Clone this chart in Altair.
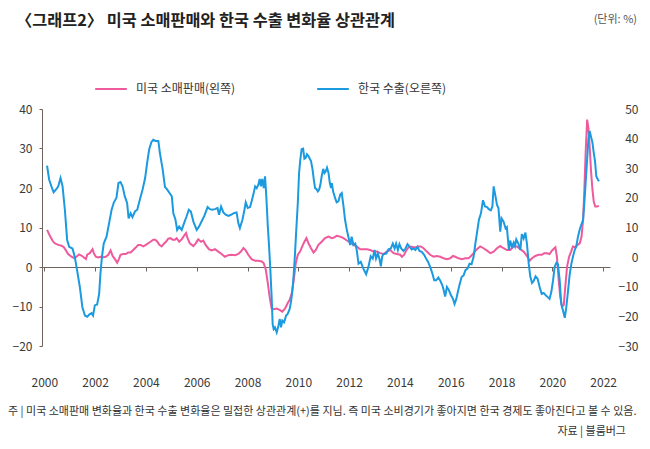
import altair as alt
import pandas as pd

FONT = "Noto Sans CJK KR"

TITLE = "〈그래프2〉 미국 소매판매와 한국 수출 변화율 상관관계"
UNIT = "(단위: %)"
NOTE = ("주 | 미국 소매판매 변화율과 한국 수출 변화율은 밀접한 상관관계(+)를 지님. "
        "즉 미국 소비경기가 좋아지면 한국 경제도 좋아진다고 볼 수 있음.")
SOURCE = "자료 | 블룸버그"

SERIES = ["미국 소매판매(왼쪽)", "한국 수출(오른쪽)"]
COLORS = ["#ee5a9c", "#1b9ae0"]

YEAR_TICKS = list(range(2000, 2023, 2))
LEFT_TICKS = [-20, -10, 0, 10, 20, 30, 40]
RIGHT_TICKS = [-30, -20, -10, 0, 10, 20, 30, 40, 50]

# US retail sales, % change (left axis)
us_year = [
    2000.11, 2000.22, 2000.32, 2000.41, 2000.55, 2000.68, 2000.77, 2000.85, 2000.94,
    2001.07, 2001.16, 2001.27, 2001.37, 2001.46, 2001.56, 2001.64, 2001.69, 2001.79,
    2001.90, 2001.95, 2002.03, 2002.12, 2002.21, 2002.32, 2002.42, 2002.52, 2002.61,
    2002.69, 2002.78, 2002.87, 2002.95, 2003.00, 2003.11, 2003.21, 2003.30, 2003.40,
    2003.50, 2003.61, 2003.70, 2003.79, 2003.90, 2004.00, 2004.09, 2004.18, 2004.29,
    2004.37, 2004.45, 2004.53, 2004.62, 2004.71, 2004.79, 2004.88, 2004.97, 2005.05,
    2005.14, 2005.21, 2005.31, 2005.41, 2005.50, 2005.58, 2005.64, 2005.73, 2005.87,
    2005.96, 2006.06, 2006.17, 2006.26, 2006.35, 2006.48, 2006.59, 2006.72, 2006.85,
    2006.98, 2007.11, 2007.24, 2007.38, 2007.51, 2007.64, 2007.74, 2007.84, 2007.93,
    2008.03, 2008.16, 2008.30, 2008.43, 2008.56, 2008.64, 2008.72, 2008.80, 2008.87,
    2008.95, 2009.03, 2009.15, 2009.28, 2009.37, 2009.48, 2009.58, 2009.66, 2009.74,
    2009.82, 2009.90, 2009.98, 2010.07, 2010.16, 2010.24, 2010.32, 2010.40, 2010.50,
    2010.60, 2010.69, 2010.79, 2010.92, 2011.05, 2011.19, 2011.32, 2011.42, 2011.51,
    2011.65, 2011.78, 2011.91, 2012.04, 2012.17, 2012.30, 2012.43, 2012.56, 2012.70,
    2012.83, 2012.96, 2013.09, 2013.22, 2013.35, 2013.48, 2013.62, 2013.75, 2013.88,
    2014.01, 2014.08, 2014.17, 2014.25, 2014.34, 2014.43, 2014.54, 2014.64, 2014.73,
    2014.82, 2014.93, 2015.06, 2015.19, 2015.32, 2015.45, 2015.59, 2015.72, 2015.85,
    2015.98, 2016.09, 2016.18, 2016.31, 2016.44, 2016.57, 2016.70, 2016.77, 2016.90,
    2017.03, 2017.16, 2017.29, 2017.42, 2017.56, 2017.69, 2017.82, 2017.95, 2018.08,
    2018.21, 2018.34, 2018.48, 2018.61, 2018.74, 2018.87, 2019.00, 2019.11, 2019.20,
    2019.33, 2019.46, 2019.59, 2019.68, 2019.79, 2019.89, 2019.99, 2020.12, 2020.18,
    2020.25, 2020.31, 2020.38, 2020.45, 2020.51, 2020.58, 2020.66, 2020.74, 2020.81,
    2020.90, 2020.99, 2021.08, 2021.15, 2021.21, 2021.26, 2021.31, 2021.37, 2021.42,
    2021.47, 2021.52, 2021.58, 2021.63, 2021.69, 2021.76, 2021.83,
]
us_retail = [
    9.4, 7.9, 6.7, 6.0, 5.6, 5.4, 5.0, 4.2, 3.3,
    2.6, 2.3, 2.6, 3.2, 2.9, 2.4, 2.0, 3.1, 3.5,
    4.5, 3.5, 2.6, 2.4, 2.6, 2.5, 2.6, 3.1, 4.2,
    2.8, 2.0, 1.1, 2.2, 3.1, 3.3, 3.3, 3.7, 3.7,
    4.3, 5.0, 5.6, 5.6, 5.2, 5.6, 6.0, 6.4, 6.9,
    6.9, 6.4, 5.6, 5.2, 5.9, 6.4, 7.2, 7.3, 6.9,
    6.9, 7.3, 6.4, 7.0, 7.9, 8.6, 7.3, 6.0, 5.3,
    6.0, 7.0, 6.4, 6.7, 5.6, 4.5, 4.2, 4.5, 3.9,
    3.3, 2.6, 3.0, 3.1, 3.0, 3.3, 3.9, 4.8, 4.2,
    3.1, 2.0, 1.6, 1.6, 1.4, 0.95, -0.7, -4.1, -7.5,
    -10.5, -10.7, -10.5, -10.9, -11.3, -10.5, -9.2, -8.3, -6.7,
    -3.3, 0.95, 3.1, 3.9, 5.3, 6.4, 7.3, 6.0, 4.75,
    3.65, 4.3, 5.6, 6.4, 7.3, 7.7, 7.3, 7.5, 7.9,
    7.7, 7.3, 6.7, 6.2, 5.6, 5.2, 4.5, 4.5, 4.5,
    4.3, 3.9, 3.9, 3.5, 3.3, 3.9, 4.3, 3.5, 3.3,
    3.1, 2.6, 3.1, 4.2, 5.0, 5.2, 5.0, 5.0, 5.2,
    5.2, 4.75, 3.9, 3.1, 2.6, 2.8, 2.6, 2.2, 2.0,
    2.2, 2.8, 2.6, 2.2, 2.0, 2.2, 2.2, 2.6, 3.5,
    4.5, 5.2, 4.75, 4.2, 3.5, 3.9, 4.75, 5.3, 4.75,
    4.3, 4.3, 5.2, 5.2, 4.5, 3.9, 2.8, 1.6, 2.2,
    2.8, 3.1, 3.1, 3.5, 3.5, 3.3, 4.2, 5.0, 2.6,
    -3.3, -7.5, -10.0, -9.6, -5.0, 0.1, 2.6, 3.9, 5.2,
    5.0, 5.6, 6.0, 7.7, 11.9, 19.5, 28.8, 37.3, 35.2,
    30.5, 24.6, 19.5, 16.6, 15.3, 15.3, 15.5,
]

# Korea exports, % change (right axis)
kr_year = [
    2000.11, 2000.19, 2000.28, 2000.37, 2000.48, 2000.55, 2000.64, 2000.72, 2000.81,
    2000.90, 2000.98, 2001.11, 2001.20, 2001.29, 2001.40, 2001.50, 2001.60, 2001.69,
    2001.77, 2001.86, 2001.92, 2001.99, 2002.08, 2002.16, 2002.21, 2002.27, 2002.34,
    2002.45, 2002.55, 2002.65, 2002.74, 2002.84, 2002.92, 2003.00, 2003.08, 2003.17,
    2003.26, 2003.32, 2003.40, 2003.47, 2003.57, 2003.66, 2003.76, 2003.87, 2003.97,
    2004.05, 2004.13, 2004.22, 2004.29, 2004.38, 2004.49, 2004.55, 2004.66, 2004.75,
    2004.84, 2004.95, 2005.02, 2005.08, 2005.16, 2005.23, 2005.31, 2005.41, 2005.50,
    2005.60, 2005.69, 2005.77, 2005.87, 2006.00, 2006.09, 2006.19, 2006.30, 2006.43,
    2006.52, 2006.61, 2006.72, 2006.82, 2006.88, 2006.96, 2007.05, 2007.14, 2007.25,
    2007.35, 2007.48, 2007.57, 2007.64, 2007.70, 2007.80, 2007.88, 2007.93, 2008.01,
    2008.10, 2008.16, 2008.23, 2008.30, 2008.36, 2008.43, 2008.48, 2008.53, 2008.58,
    2008.64, 2008.69, 2008.74, 2008.80, 2008.85, 2008.90, 2008.95, 2008.99, 2009.03,
    2009.08, 2009.15, 2009.22, 2009.27, 2009.32, 2009.37, 2009.44, 2009.52, 2009.58,
    2009.66, 2009.71, 2009.77, 2009.82, 2009.87, 2009.92, 2009.98, 2010.03, 2010.08,
    2010.13, 2010.19, 2010.24, 2010.29, 2010.34, 2010.40, 2010.45, 2010.50, 2010.56,
    2010.61, 2010.66, 2010.71, 2010.77, 2010.82, 2010.87, 2010.92, 2010.98, 2011.03,
    2011.08, 2011.13, 2011.19, 2011.24, 2011.29, 2011.32, 2011.37, 2011.45, 2011.51,
    2011.58, 2011.65, 2011.71, 2011.78, 2011.84, 2011.91, 2011.97, 2012.04, 2012.10,
    2012.17, 2012.24, 2012.30, 2012.37, 2012.46, 2012.56, 2012.67, 2012.76, 2012.85,
    2012.93, 2013.00, 2013.06, 2013.13, 2013.19, 2013.25, 2013.30, 2013.35, 2013.46,
    2013.55, 2013.64, 2013.72, 2013.79, 2013.85, 2013.92, 2013.98, 2014.05, 2014.14,
    2014.22, 2014.30, 2014.38, 2014.46, 2014.54, 2014.61, 2014.69, 2014.77, 2014.86,
    2014.96, 2015.03, 2015.11, 2015.19, 2015.27, 2015.35, 2015.43, 2015.51, 2015.59,
    2015.67, 2015.72, 2015.78, 2015.85, 2015.93, 2016.01, 2016.09, 2016.15, 2016.22,
    2016.28, 2016.35, 2016.43, 2016.51, 2016.58, 2016.66, 2016.74, 2016.82, 2016.90,
    2016.97, 2017.03, 2017.11, 2017.19, 2017.27, 2017.35, 2017.43, 2017.50, 2017.58,
    2017.64, 2017.69, 2017.75, 2017.82, 2017.88, 2017.95, 2018.00, 2018.08, 2018.16,
    2018.21, 2018.29, 2018.34, 2018.41, 2018.48, 2018.53, 2018.58, 2018.66, 2018.74,
    2018.80, 2018.87, 2018.94, 2019.00, 2019.07, 2019.13, 2019.20, 2019.26, 2019.34,
    2019.42, 2019.50, 2019.58, 2019.66, 2019.74, 2019.82, 2019.89, 2019.96, 2020.03,
    2020.09, 2020.16, 2020.22, 2020.29, 2020.35, 2020.42, 2020.49, 2020.55, 2020.62,
    2020.68, 2020.75, 2020.81, 2020.88, 2020.94, 2021.01, 2021.08, 2021.14, 2021.21,
    2021.26, 2021.31, 2021.37, 2021.42, 2021.47, 2021.52, 2021.58, 2021.63, 2021.68,
    2021.73, 2021.79, 2021.84,
]
kr_export = [
    30.9, 26.2, 23.9, 21.9, 23.0, 23.9, 26.7, 23.9, 16.0,
    5.8, 3.5, 2.9, 0.1, -4.4, -10.1, -16.9, -19.7, -20.1,
    -19.4, -18.9, -19.7, -16.3, -16.0, -12.4, -5.6, 0.1, 4.6,
    6.9, 11.4, 16.0, 18.5, 20.0, 25.0, 25.3, 23.9, 20.5,
    18.3, 13.1, 14.8, 13.5, 15.4, 16.0, 19.4, 22.8, 26.7,
    31.9, 36.4, 38.9, 39.6, 39.2, 39.2, 35.2, 29.6, 23.7,
    22.8, 21.4, 20.5, 14.8, 12.8, 9.2, 10.3, 9.2, 11.4,
    13.7, 16.0, 15.4, 12.0, 9.2, 10.3, 12.0, 13.9, 16.9,
    16.2, 16.0, 16.2, 16.6, 14.3, 17.1, 15.1, 14.3, 13.9,
    14.3, 14.9, 15.1, 11.4, 9.8, 12.6, 16.0, 18.5, 16.6,
    16.9, 18.8, 21.1, 23.9, 23.3, 24.5, 26.4, 23.9, 26.4,
    23.3, 27.3, 20.5, 10.3, 3.5, -4.4, -13.5, -22.6, -24.3,
    -23.7, -25.4, -23.1, -20.9, -23.7, -21.4, -22.0, -19.7, -19.2,
    -17.5, -15.2, -11.2, -5.6, 1.2, 9.2, 18.2, 28.4, 33.0,
    36.4, 36.6, 33.2, 33.5, 34.7, 34.1, 33.2, 32.4, 29.6,
    26.2, 23.3, 23.0, 22.2, 22.8, 24.5, 27.3, 29.8, 28.4,
    29.0, 30.2, 28.4, 25.0, 23.3, 25.0, 22.2, 19.9, 18.5,
    18.8, 21.1, 21.6, 17.1, 12.6, 9.2, 6.9, 4.1, 6.9,
    4.1, 4.6, 2.4, -2.2, -1.6, -3.9, -5.8, -3.3, 0.3,
    -0.5, 2.4, -0.5, 1.2, -0.5, -3.1, 0.1, 1.0, 1.2,
    2.6, 2.9, 4.6, 2.9, 4.6, 2.4, 4.4, 2.9, 2.1,
    2.9, 4.4, 3.5, 2.6, 2.9, 2.4, 3.5, 2.1, 1.8,
    0.7, -0.5, -1.6, -3.3, -5.3, -7.8, -7.8, -6.9, -8.0,
    -9.5, -11.0, -13.3, -10.1, -11.2, -12.9, -14.1, -15.8, -14.1,
    -11.8, -9.2, -6.7, -6.1, -4.4, -3.9, -2.2, -2.4, 0.1,
    4.6, 8.0, 12.6, 14.8, 19.2, 17.1, 16.9, 16.2, 15.8,
    17.1, 23.9, 21.1, 17.7, 16.5, 8.6, 13.1, 12.0, 9.7,
    10.1, 2.4, 5.6, 3.5, 4.9, 3.7, 6.0, 4.6, 2.4,
    7.8, 6.3, 8.3, 4.6, -2.2, -6.5, -8.7, -8.1, -6.5,
    -7.3, -10.1, -12.4, -12.1, -12.9, -13.5, -14.1, -11.8, -7.8,
    -3.3, -1.9, -2.4, -7.8, -15.8, -18.0, -20.5, -16.9, -11.2,
    -6.1, -2.2, 0.1, 2.4, 3.5, 6.9, 9.4, 10.9, 12.6,
    18.2, 25.0, 33.0, 39.8, 42.6, 40.7, 38.6, 35.2, 32.4,
    27.3, 26.2, 25.6,
]

W, H = 568, 237
AXIS_COLOR = "#6f6460"
LABEL_COLOR = "#3a3a3a"

us = pd.DataFrame({"year": us_year, "value": us_retail, "series": SERIES[0]})
kr = pd.DataFrame({"year": kr_year, "value": kr_export, "series": SERIES[1]})

legend = alt.Legend(
    orient="none", legendX=52, legendY=-37, direction="horizontal", title=None,
    symbolType="stroke", symbolSize=1000, symbolStrokeWidth=2,
    labelFont=FONT, labelFontSize=12, labelColor="#333", labelOffset=8,
    columnPadding=77, labelLimit=300, padding=0,
)
color = alt.Color("series:N", scale=alt.Scale(domain=SERIES, range=COLORS), legend=legend)

x = alt.X(
    "year:Q",
    scale=alt.Scale(domain=[1999.91, 2022.27], nice=False, zero=False),
    axis=alt.Axis(
        values=YEAR_TICKS, format="d", title=None, grid=False,
        offset=-(H * 20 / 60), tickSize=4, labelPadding=111, labelBaseline="middle",
        domainColor=AXIS_COLOR, tickColor=AXIS_COLOR, labelColor=LABEL_COLOR,
        labelFont=FONT, labelFontSize=12,
    ),
)

left = alt.Chart(us).mark_line(strokeWidth=2).encode(
    x=x,
    y=alt.Y(
        "value:Q",
        scale=alt.Scale(domain=[-20, 40], nice=False),
        axis=alt.Axis(
            values=LEFT_TICKS, orient="left", title=None, grid=False,
            tickSize=3, labelPadding=7, domainColor=AXIS_COLOR, tickColor=AXIS_COLOR,
            labelColor=LABEL_COLOR, labelFont=FONT, labelFontSize=12,
        ),
    ),
    color=color,
)

right = alt.Chart(kr).mark_line(strokeWidth=2).encode(
    x=x,
    y=alt.Y(
        "value:Q",
        scale=alt.Scale(domain=[-30, 50], nice=False),
        axis=alt.Axis(
            values=RIGHT_TICKS, orient="right", title=None, grid=False,
            domain=False, ticks=False, tickSize=0, labelPadding=28, labelAlign="right",
            labelColor=LABEL_COLOR, labelFont=FONT, labelFontSize=12,
        ),
    ),
    color=color,
)


def label(text, x_px, y_px, align="left", size=11, weight="normal", fill="#333"):
    return alt.Chart(pd.DataFrame({"t": [text]})).mark_text(
        align=align, baseline="middle", font=FONT, fontSize=size,
        fontWeight=weight, color=fill,
    ).encode(x=alt.value(x_px), y=alt.value(y_px), text="t:N")


chart = (
    alt.layer(
        left,
        right,
        label(TITLE, -26, -88, size=16.3, weight="bold", fill="#222"),
        label(UNIT, 595, -89, align="right", size=11, fill="#555"),
        label(NOTE, -34, 303, size=11),
        label(SOURCE, 584, 323, align="right", size=11),
    )
    .resolve_scale(y="independent")
    .properties(
        width=W, height=H,
        autosize=alt.AutoSizeParams(type="none"),
        padding={"left": 34, "top": 101, "right": 30, "bottom": 92},
        background="white",
    )
    .configure_view(stroke=None)
)

chart.save("out.html", embed_options={"renderer": "svg", "actions": False})
